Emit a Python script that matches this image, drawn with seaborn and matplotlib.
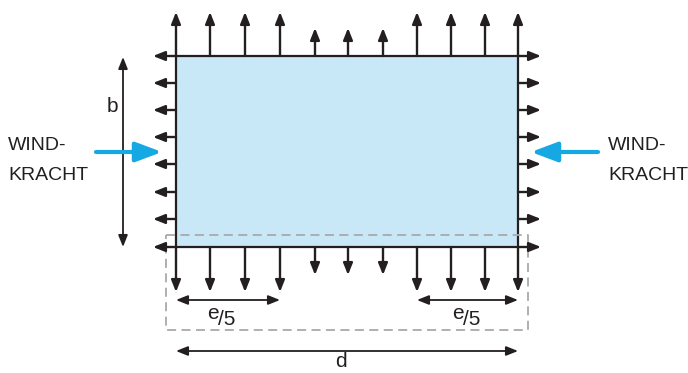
import numpy as np
import pandas as pd
import matplotlib.pyplot as plt
import seaborn as sns

# building outline (diagram units = pixels of the drawing, y downwards)
wall_left, wall_right = 176, 518
wall_top, wall_bottom = 56, 247

# suction arrows on the long sides (x position, arrow length)
top_x = [176, 210, 245, 280, 315, 348, 383, 417, 451, 485, 518]
top_len = [44, 44, 44, 44, 28, 28, 28, 44, 44, 44, 44]
bottom_len = [45, 45, 45, 45, 28, 28, 28, 45, 45, 45, 45]

# suction arrows on the short sides (y position)
side_y = [56, 83, 110, 137, 164, 192, 219, 247]
side_len = 23

# dimension lines
dim_b = dict(x=123, y0=57, y1=247)
dim_e_left = (176, 280)
dim_e_right = (417, 518)
dim_e_y = 300
dim_d_y = 351

# dashed zone
zone = pd.DataFrame({"x": [166, 528, 528, 166, 166],
                     "y": [235, 235, 330, 330, 235]})

dark = "#231f20"
blue = "#15a8e2"
fill = "#c8e8f8"

sns.set_theme(style="white")
plt.rcParams['font.family'] = ['Liberation Sans Narrow', 'Liberation Sans', 'DejaVu Sans']

fig = plt.figure(figsize=(6.88, 3.73), dpi=100)
ax = fig.add_axes([0, 0, 1, 1])
ax.set_xlim(0, 688)
ax.set_ylim(373, 0)
ax.axis('off')


def arrow(x0, y0, x1, y1, both=False, color=dark, lw=1.7, head="head_length=0.7,head_width=0.28", scale=10):
    style = ("<|-|>," if both else "-|>,") + head
    ax.annotate("", xy=(x1, y1), xytext=(x0, y0),
                arrowprops=dict(arrowstyle=style, color=color, lw=lw,
                                mutation_scale=scale, shrinkA=0, shrinkB=0))


# building
ax.add_patch(plt.Rectangle((wall_left, wall_top), wall_right - wall_left,
                           wall_bottom - wall_top, facecolor=fill,
                           edgecolor=dark, lw=1.6, zorder=2))

# dashed zone
sns.lineplot(data=zone, x="x", y="y", sort=False, estimator=None, ax=ax,
             color="#a7a9ac", lw=1.3, linestyle=(0, (5, 3)), zorder=3)

# arrows up / down
for x, lt, lb in zip(top_x, top_len, bottom_len):
    arrow(x, wall_top, x, wall_top - lt)
    arrow(x, wall_bottom, x, wall_bottom + lb)

# arrows left / right
for y in side_y:
    arrow(wall_left, y, wall_left - side_len, y)
    arrow(wall_right, y, wall_right + side_len, y)

# dimension b
arrow(dim_b["x"], dim_b["y0"], dim_b["x"], dim_b["y1"], both=True, lw=1.3)
ax.text(112, 112, "b", fontsize=15, color=dark, ha="center", va="baseline")

# dimensions e/5
arrow(*[dim_e_left[0], dim_e_y, dim_e_left[1], dim_e_y], both=True, lw=1.3)
arrow(*[dim_e_right[0], dim_e_y, dim_e_right[1], dim_e_y], both=True, lw=1.3)
for ex in [207, 452]:
    ax.text(ex, 319, "e", fontsize=15, color=dark, ha="left", va="baseline")
    ax.text(ex + 11, 325, "/5", fontsize=15, color=dark, ha="left", va="baseline")

# dimension d
arrow(wall_left, dim_d_y, wall_right, dim_d_y, both=True, lw=1.3)
ax.text(341, 367, "d", fontsize=15, color=dark, ha="center", va="baseline")

# wind
arrow(96, 152, 162, 152, color=blue, lw=3, head="head_length=1.6,head_width=0.6", scale=10)
arrow(598, 152, 531, 152, color=blue, lw=3, head="head_length=1.6,head_width=0.6", scale=10)
for tx in [8, 608]:
    ax.text(tx, 150, "WIND-", fontsize=14, color=dark, ha="left", va="baseline")
    ax.text(tx, 180, "KRACHT", fontsize=14, color=dark, ha="left", va="baseline")

fig.savefig("out.png", dpi=100)
